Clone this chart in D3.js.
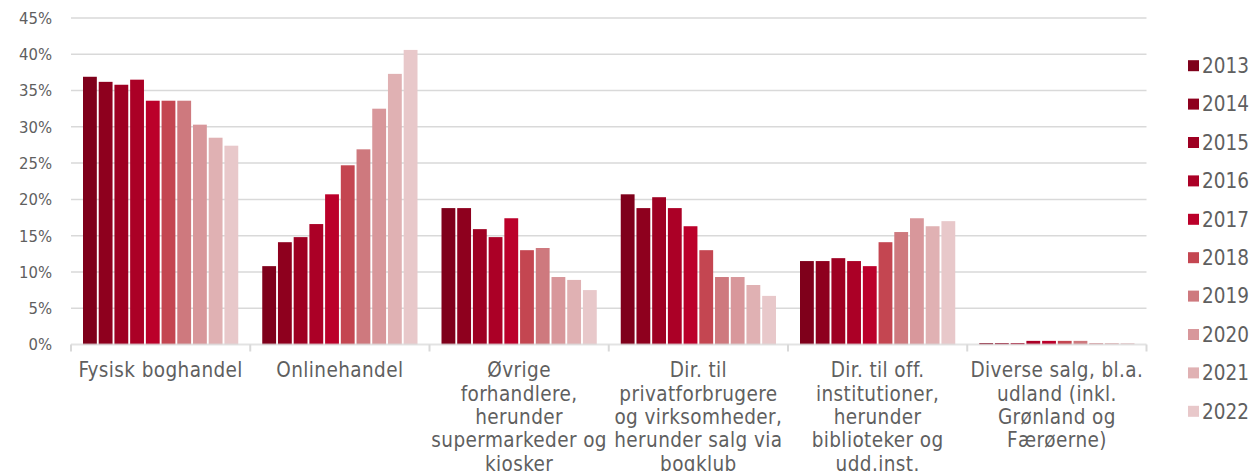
<!DOCTYPE html>
<html><head><meta charset="utf-8">
<script src="https://cdn.jsdelivr.net/npm/d3@7"></script>
<style>
html,body{margin:0;padding:0;background:#fff;}
svg text{font-family:"DejaVu Sans Condensed","DejaVu Sans",sans-serif;font-stretch:condensed;fill:#5f5f5f;}
</style></head>
<body>
<svg id="chart" width="1253" height="471"></svg>
<script>
const categories = [
  ["Fysisk boghandel"],
  ["Onlinehandel"],
  ["Øvrige","forhandlere,","herunder","supermarkeder og","kiosker"],
  ["Dir. til","privatforbrugere","og virksomheder,","herunder salg via","bogklub"],
  ["Dir. til off.","institutioner,","herunder","biblioteker og","udd.inst."],
  ["Diverse salg, bl.a.","udland (inkl.","Grønland og","Færøerne)"]
];
const years = ["2013","2014","2015","2016","2017","2018","2019","2020","2021","2022"];
const colors = ["#7f001b","#8e001e","#9e0022","#ab0026","#bb002a","#c44651","#ce797e","#d8979b","#e0b1b3","#e8c8ca"];
const yTicks = [0,5,10,15,20,25,30,35,40,45];
// values (%) per category, one entry per year 2013..2022
const fysisk   = [36.9,36.2,35.8,36.5,33.6,33.6,33.6,30.3,28.5,27.4];
const online   = [10.8,14.1,14.8,16.6,20.7,24.7,26.9,32.5,37.3,40.6];
const oevrige  = [18.8,18.8,15.9,14.8,17.4,13.0,13.3,9.3,8.9,7.5];
const dirPriv  = [20.7,18.8,20.3,18.8,16.3,13.0,9.3,9.3,8.2,6.7];
const dirOff   = [11.5,11.5,11.9,11.5,10.8,14.1,15.5,17.4,16.3,17.0];
const diverse  = [0.2,0.2,0.2,0.5,0.5,0.5,0.5,0.2,0.2,0.2];
const seriesByCat = [fysisk, online, oevrige, dirPriv, dirOff, diverse];

const svg = d3.select("#chart");
const catKeys = categories.map((c,i)=>i);
const x0 = d3.scaleBand().domain(catKeys).range([71,1146.5]).padding(0);
const x1 = d3.scaleBand().domain(years).range([12, x0.bandwidth()-12]).paddingInner(0.12);
const y = d3.scaleLinear().domain([0,45]).range([344.5,18]);

// gridlines
svg.append("g").selectAll("line").data(yTicks.filter(t=>t>0)).join("line")
  .attr("x1",71).attr("x2",1146.5)
  .attr("y1",d=>y(d)).attr("y2",d=>y(d))
  .attr("stroke","#d9d9d9").attr("stroke-width",1.5);

// y tick labels
svg.append("g").selectAll("text").data(yTicks).join("text")
  .attr("x",52).attr("y",d=>y(d)).attr("dy","0.36em")
  .attr("text-anchor","end").attr("font-size",16.5)
  .text(d=>d+"%");

// bars
const groups = svg.append("g").selectAll("g").data(catKeys).join("g")
  .attr("transform",d=>`translate(${x0(d)},0)`);
groups.selectAll("rect").data(d=>seriesByCat[d].map((v,i)=>({v, yr:years[i], i}))).join("rect")
  .attr("x",d=>x1(d.yr)).attr("width",x1.bandwidth())
  .attr("y",d=>y(d.v)).attr("height",d=>y(0)-y(d.v))
  .attr("fill",d=>colors[d.i]);

// x axis line + ticks
const ax = svg.append("g");
ax.append("line").attr("x1",71).attr("x2",1146.5).attr("y1",y(0)).attr("y2",y(0))
  .attr("stroke","#d9d9d9").attr("stroke-width",2).attr("stroke-opacity",0.75);
ax.selectAll("line.tk").data(d3.range(categories.length+1)).join("line").attr("class","tk")
  .attr("x1",d=>71+d*x0.step()).attr("x2",d=>71+d*x0.step())
  .attr("y1",y(0)).attr("y2",y(0)+7)
  .attr("stroke","#d9d9d9").attr("stroke-width",2);

// category labels
const lbl = svg.append("g").selectAll("text").data(catKeys).join("text")
  .attr("x",d=>x0(d)+x0.bandwidth()/2).attr("y",370).attr("text-anchor","middle")
  .attr("font-size",20.5).attr("letter-spacing","0.4px");
lbl.selectAll("tspan").data(d=>categories[d]).join("tspan")
  .attr("x",function(){return this.parentNode.getAttribute("x");})
  .attr("y",(d,i)=>370+i*23.3).attr("dy","0.36em")
  .text(d=>d);

// legend
const leg = svg.append("g").selectAll("g").data(years).join("g")
  .attr("transform",(d,i)=>`translate(1188,${65.7+i*38.4})`);
leg.append("rect").attr("x",0).attr("y",-5.5).attr("width",11).attr("height",11)
  .attr("fill",(d,i)=>colors[i]);
leg.append("text").attr("x",14).attr("y",0).attr("dy","0.36em").attr("font-size",20.5).text(d=>d);
</script>
</body></html>
